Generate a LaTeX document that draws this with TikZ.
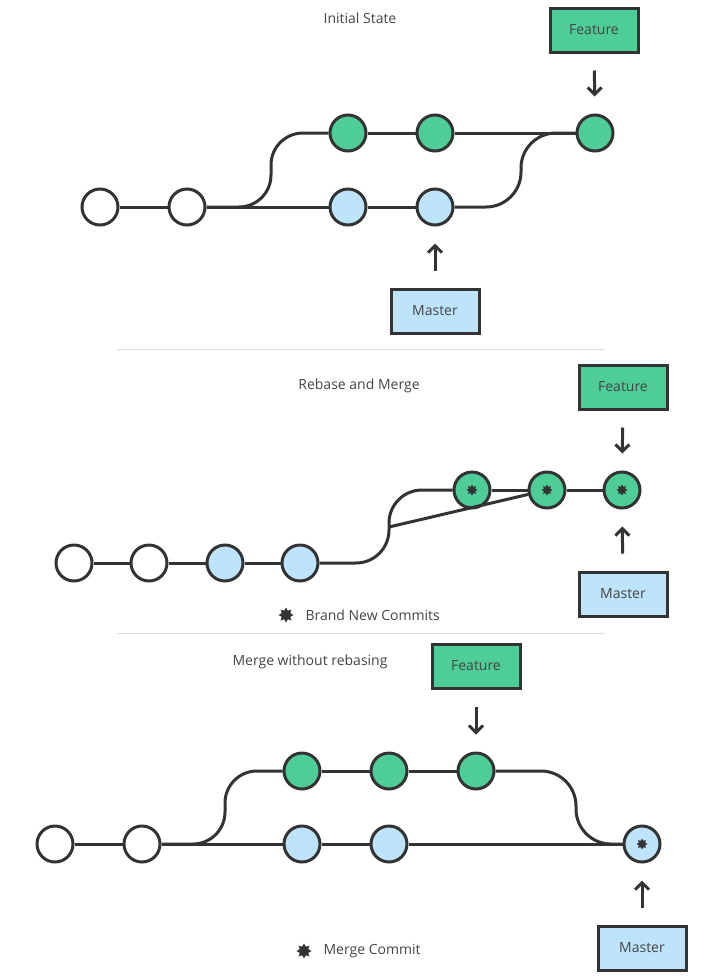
\documentclass[tikz,border=0pt]{standalone}
\usepackage{fontspec}
\setmainfont{Open Sans}
\usetikzlibrary{arrows.meta,shapes.geometric}
\definecolor{featgreen}{RGB}{78,205,152}
\definecolor{mastblue}{RGB}{190,228,251}
\definecolor{ink}{RGB}{51,51,51}
\definecolor{words}{RGB}{68,68,68}
\definecolor{rule}{RGB}{222,222,222}
\tikzset{
  commit/.style={circle,draw=ink,line width=3pt,minimum size=36pt,inner sep=0pt,fill=white},
  feat/.style={commit,fill=featgreen},
  mast/.style={commit,fill=mastblue},
  refbox/.style={rectangle,draw=ink,line width=3pt,minimum width=88pt,minimum height=44pt,
    font=\fontsize{14}{16}\selectfont,text=words},
  title/.style={font=\fontsize{14}{16}\selectfont,text=words},
  newmark/.style={star,star points=8,star point ratio=1.6,fill=ink,minimum size=11pt,inner sep=0pt},
  line/.style={draw=ink,line width=3pt},
  ptr/.style={line,-{Straight Barb[length=7pt,width=14pt]},shorten <=17pt,shorten >=17pt},
}

\begin{document}
\begin{tikzpicture}[x=1pt,y=-1pt]
\useasboundingbox (0,0) rectangle (720,978);

% Initial State
\node[title] (t1) at (360,18) {Initial State};
\node[commit] (a1) at (100,207) {};
\node[commit] (a2) at (187,207) {};
\node[mast] (a3) at (348,207) {};
\node[mast] (a4) at (435,207) {};
\node[feat] (b1) at (348,133) {};
\node[feat] (b2) at (435,133) {};
\node[feat] (b3) at (595,133) {};
\node[refbox,fill=featgreen] (f1) at (594,30) {Feature};
\node[refbox,fill=mastblue] (m1) at (435,311) {Master};
\foreach \i/\j in {a1/a2,a2/a3,a3/a4,b1/b2,b2/b3}
{
  \draw[line] (\i) to (\j);
}
\draw[line,rounded corners=32pt] (a2.east) -- (271,207) |- (b1);
\draw[line,rounded corners=35pt] (a4.east) -- (521,207) |- (b3);
\draw[ptr] (f1) -- (b3);
\draw[ptr] (m1) -- (a4);

\draw[rule,line width=1pt] (117,349) -- (605,349);

% Rebase and Merge
\node[title] (t2) at (359,386) {Rebase and Merge};
\node[commit] (c1) at (74,563) {};
\node[commit] (c2) at (149,563) {};
\node[mast] (c3) at (225,563) {};
\node[mast] (c4) at (300,563) {};
\node[feat] (d1) at (472,490) {};
\node[feat] (d2) at (547,490) {};
\node[feat] (d3) at (622,490) {};
\coordinate (fork) at (389,527);
\node[refbox,fill=featgreen] (f2) at (623,387) {Feature};
\node[refbox,fill=mastblue] (m2) at (623,594) {Master};
\foreach \i/\j in {c1/c2,c2/c3,c3/c4,d1/d2,d2/d3}
{
  \draw[line] (\i) to (\j);
}
\draw[line,rounded corners=33pt] (c4.east) -- (389,563) |- (d1);
\draw[line] (fork) -- (d2);
\foreach \i in {d1,d2,d3}
{
  \node[newmark] (s\i) at (\i) {};
}
\draw[ptr] (f2) -- (d3);
\draw[ptr] (m2) -- (d3);
\node[newmark,minimum size=15pt] (k2) at (286,615) {};
\node[title,anchor=west] (l2) at (302,615) {Brand New Commits};

\draw[rule,line width=1pt] (117,633) -- (605,633);

% Merge without rebasing
\node[title] (t3) at (310,662) {Merge without rebasing};
\node[commit] (e1) at (55,844) {};
\node[commit] (e2) at (142,844) {};
\node[mast] (e3) at (302,844) {};
\node[mast] (e4) at (389,844) {};
\node[mast] (e5) at (642,844) {};
\node[feat] (g1) at (302,771) {};
\node[feat] (g2) at (389,771) {};
\node[feat] (g3) at (476,771) {};
\node[refbox,fill=featgreen] (f3) at (476,666) {Feature};
\node[refbox,fill=mastblue] (m3) at (642,948) {Master};
\foreach \i/\j in {e1/e2,e2/e3,e3/e4,e4/e5,g1/g2,g2/g3}
{
  \draw[line] (\i) to (\j);
}
\draw[line,rounded corners=32pt] (e2.east) -- (225,844) |- (g1);
\draw[line,rounded corners=35pt] (g3.east) -- (576,771) |- (e5);
\node[newmark] (se5) at (e5) {};
\draw[ptr] (f3) -- (g3);
\draw[ptr] (m3) -- (e5);
\node[newmark,minimum size=15pt] (k3) at (304,951) {};
\node[title,anchor=west] (l3) at (320,951) {Merge Commit};
\end{tikzpicture}
\end{document}
